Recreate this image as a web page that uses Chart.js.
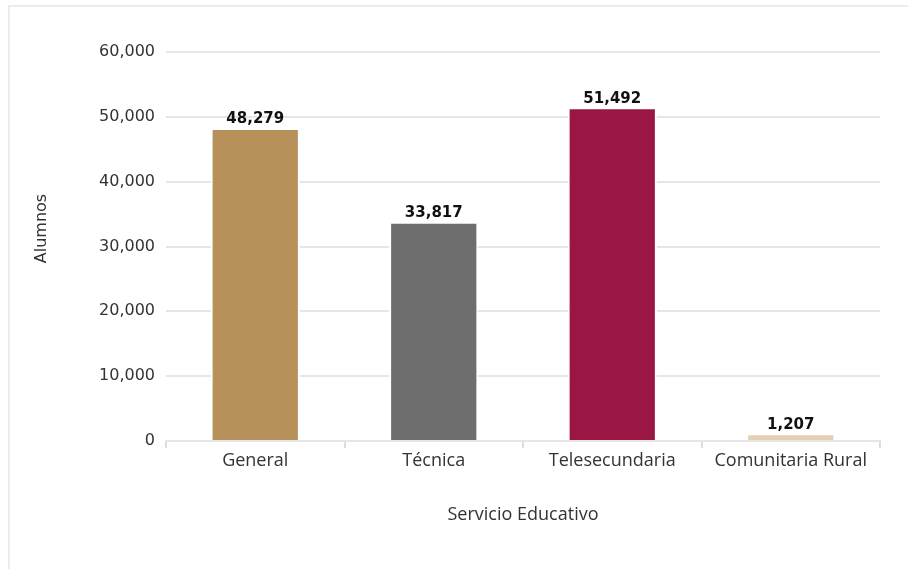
<!DOCTYPE html>
<html>
<head>
<meta charset="utf-8">
<script src="https://cdn.jsdelivr.net/npm/chart.js@4"></script>
<style>
    html, body { margin: 0; padding: 0; background: #fff; }
    #wrap { position: relative; width: 908px; height: 569px; }
    #frame {
        position: absolute; left: 8px; top: 5px; right: 0; bottom: 0;
        border-top: 2px solid #ececec; border-left: 2px solid #ececec;
    }
    #chart { position: absolute; left: 0; top: 0; }
</style>
</head>
<body>
<div id="wrap">
    <div id="frame"></div>
    <canvas id="chart" width="908" height="569"></canvas>
</div>
<script>
const categories = ["General", "Técnica", "Telesecundaria", "Comunitaria Rural"];
const alumnos = [48279, 33817, 51492, 1207];
const barColors = ["#b8915a", "#6e6e6e", "#9a1644", "#e4d0b3"];
const yTicks = [0, 10000, 20000, 30000, 40000, 50000, 60000];
const yTitle = "Alumnos";
const xTitle = "Servicio Educativo";

const textColor = "#333333";
const gridColor = "#e6e6e6";

const formatNumber = (n) => n.toLocaleString("en-US");

new Chart(document.getElementById("chart"), {
    type: "bar",
    data: {
        labels: categories,
        datasets: [
            {
                data: alumnos,
                backgroundColor: barColors,
                borderColor: "#ffffff",
                borderWidth: 2,
                borderSkipped: "start",
                categoryPercentage: 1,
                barPercentage: 0.5,
            },
        ],
    },
    options: {
        responsive: false,
        animation: false,
        layout: { padding: { top: 52, right: 28, left: 20, bottom: 42 } },
        plugins: {
            legend: { display: false },
            tooltip: { enabled: false },
        },
        scales: {
            x: {
                grid: {
                    display: true,
                    drawOnChartArea: false,
                    drawTicks: true,
                    tickLength: 7,
                    color: "#dddddd",
                    lineWidth: 2,
                },
                border: { display: true, color: gridColor, width: 2 },
                ticks: {
                    color: textColor,
                    font: { family: "Open Sans", size: 18 },
                    padding: 2,
                },
                title: {
                    display: true,
                    text: xTitle,
                    color: textColor,
                    font: { family: "Open Sans", size: 18 },
                    padding: 1,
                },
                afterFit: (scale) => { scale.height = 86; },
            },
            y: {
                min: 0,
                max: 60000,
                afterBuildTicks: (scale) => {
                    scale.ticks = yTicks.map((v) => ({ value: v }));
                },
                grid: { color: gridColor, lineWidth: 2, drawTicks: false },
                border: { display: false },
                ticks: {
                    color: textColor,
                    font: { family: "DejaVu Sans", size: 16 },
                    padding: 11,
                    callback: (v) => formatNumber(v),
                },
                afterFit: (scale) => { scale.width = 146; },
            },
        },
    },
    plugins: [
        {
            id: "y-title",
            afterDraw(chart) {
                const { ctx, chartArea } = chart;
                ctx.save();
                ctx.translate(42, (chartArea.top + chartArea.bottom) / 2 - 18);
                ctx.rotate(-Math.PI / 2);
                ctx.fillStyle = textColor;
                ctx.font = "16px 'DejaVu Sans'";
                ctx.textAlign = "center";
                ctx.textBaseline = "middle";
                ctx.fillText(yTitle, 0, 0);
                ctx.restore();
            },
        },
        {
            id: "bar-value-labels",
            afterDatasetsDraw(chart) {
                const ctx = chart.ctx;
                const meta = chart.getDatasetMeta(0);
                ctx.save();
                ctx.fillStyle = "#111111";
                ctx.font = "bold 15px 'DejaVu Sans'";
                ctx.textAlign = "center";
                ctx.textBaseline = "bottom";
                meta.data.forEach((bar, i) => {
                    ctx.fillText(formatNumber(alumnos[i]), bar.x, bar.y - 1);
                });
                ctx.restore();
            },
        },
    ],
});
</script>
</body>
</html>
